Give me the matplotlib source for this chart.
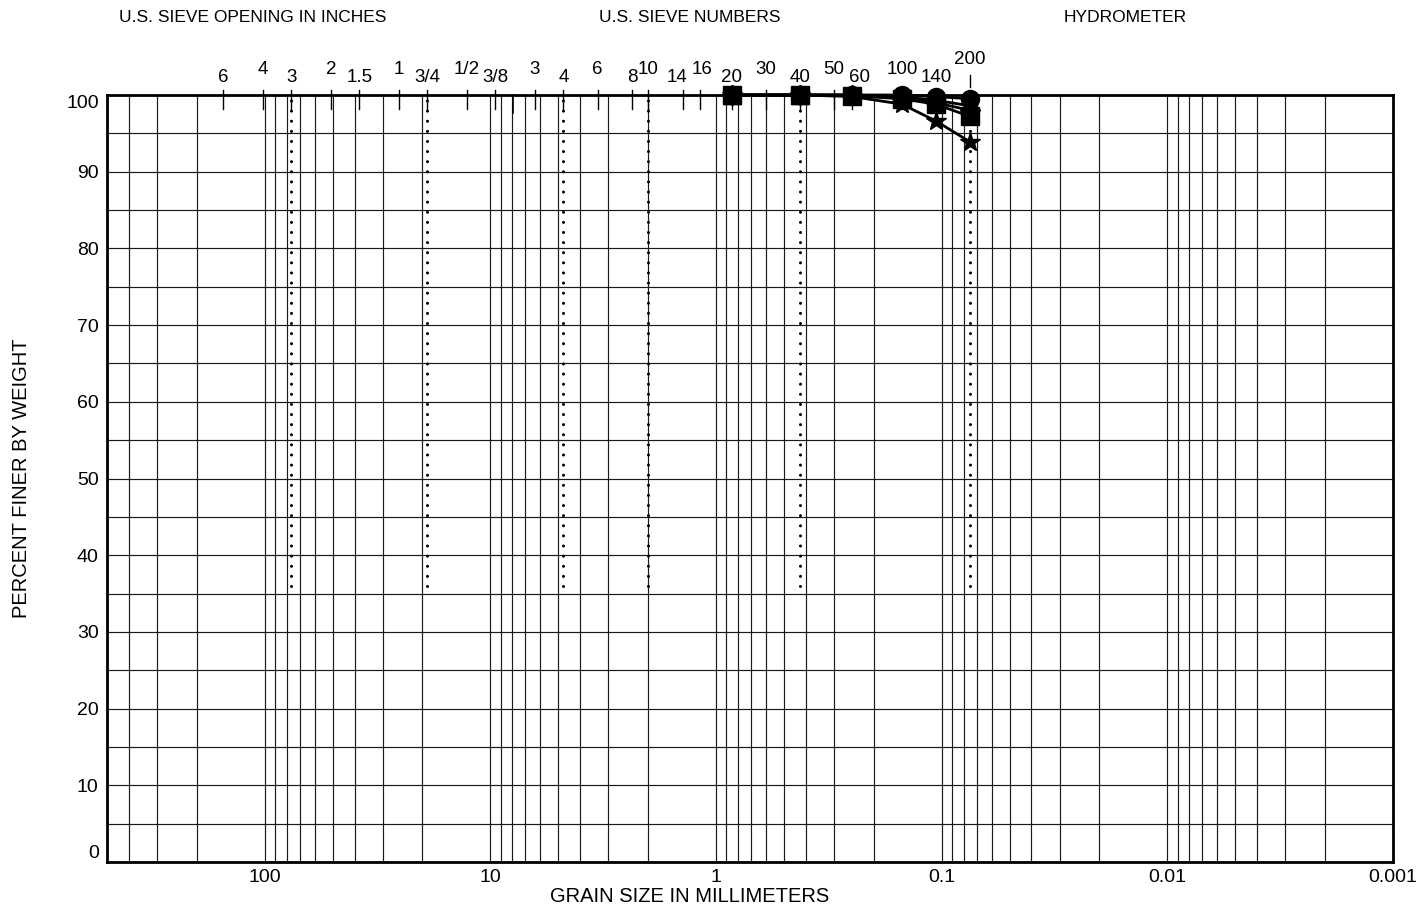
import numpy as np
import matplotlib.pyplot as plt

plt.rcParams['font.family'] = ['Liberation Sans', 'DejaVu Sans']

# sieve openings (mm) and their labels, inches first then U.S. sieve numbers
sieve_mm = [152.4, 101.6, 76.2, 50.8, 38.1, 25.4, 19.05, 12.7, 9.525,
            6.35, 4.75, 3.35, 2.36, 2.0, 1.4, 1.18, 0.85, 0.6, 0.425,
            0.3, 0.25, 0.15, 0.106, 0.075]
sieve_lab = ["6", "4", "3", "2", "1.5", "1", "3/4", "1/2", "3/8",
             "3", "4", "6", "8", "10", "14", "16", "20", "30", "40",
             "50", "60", "100", "140", "200"]
dotted_mm = [76.2, 19.05, 4.75, 2.0, 0.425, 0.075]

# test results: percent finer at #20, #40, #60, #100, #140, #200
test_mm = [0.85, 0.425, 0.25, 0.15, 0.106, 0.075]
pf_circle = [100, 100, 100, 100, 99.8, 99.5]
pf_square = [100, 100, 99.9, 99.5, 98.8, 97.2]
pf_triangle = [100, 100, 100, 99.8, 99.3, 98.6]
pf_diamond = [100, 100, 100, 99.6, 99.0, 98.0]
pf_star = [100, 100, 99.8, 98.8, 96.6, 93.9]

x_major = [100, 10, 1, 0.1, 0.01, 0.001]
x_major_lab = ["100", "10", "1", "0.1", "0.01", "0.001"]

W, H = 1416, 907
fig = plt.figure(figsize=(W / 100, H / 100), dpi=100)
ax = fig.add_axes([107 / W, 1 - 862 / H, (1393 - 107) / W, (862 - 95) / H])

ax.set_xscale('log')
ax.set_xlim(500, 0.001)
ax.set_ylim(0, 100)

# grid: every 1..9 per decade on x, every 5 % on y
minors = [m * 10.0 ** e for e in range(-3, 3) for m in range(2, 10) if m * 10.0 ** e <= 500]
ax.set_xticks(x_major)
ax.set_xticklabels(x_major_lab)
ax.set_xticks(minors, minor=True)
ax.xaxis.set_minor_formatter(plt.NullFormatter())
ax.set_yticks(np.arange(0, 101, 10))
ax.set_yticks(np.arange(5, 100, 10), minor=True)
ax.grid(which='both', color='#1a1a1a', lw=0.85)
ax.tick_params(which='both', length=0, labelsize=14)
ax.tick_params(axis='x', pad=5)
ax.tick_params(axis='y', pad=6)
ylabs = ax.get_yticklabels()
ylabs[0].set_va('bottom')
ylabs[-1].set_va('top')
for s in ax.spines.values():
    s.set_linewidth(2.0)

# dotted lines at the key sieves
for d in dotted_mm:
    ax.plot([d, d], [36, 100], color='black', lw=2.2, ls=(0, (0.01, 3.3)),
            dash_capstyle='round', zorder=3, clip_on=False)

# sieve ticks and labels along the top
nudge = {"60": 8, "14": -6, "16": 2}
for k, (d, lab) in enumerate(zip(sieve_mm, sieve_lab)):
    if k == len(sieve_mm) - 1:
        ax.plot([d, d], [102.6, 101.0], color='black', lw=1, clip_on=False)
        off = 35
    else:
        ax.plot([d, d], [100.65, 98.2], color='black', lw=1, clip_on=False)
        off = 17 if k % 2 == 0 else 25
    ax.annotate(lab, xy=(d, 1), xycoords=('data', 'axes fraction'),
                xytext=(nudge.get(lab, 0), off), textcoords='offset pixels',
                ha='center', va='center', fontsize=13.5)
ax.plot([7.94, 7.94], [100, 97.7], color='black', lw=1.2, clip_on=False)

series = [(pf_circle, 'o', 13), (pf_triangle, '^', 13), (pf_diamond, 'D', 10),
          (pf_square, 's', 12.5), (pf_star, '*', 15)]
for vals, mk, ms in series:
    ax.plot(test_mm, vals, color='black', lw=2, marker=mk, ms=ms,
            mec='black', mfc='black', zorder=5, clip_on=False)

fig.text(253 / W, 1 - 18 / H, "U.S. SIEVE OPENING IN INCHES", ha='center', va='center', fontsize=12.5)
fig.text(690 / W, 1 - 18 / H, "U.S. SIEVE NUMBERS", ha='center', va='center', fontsize=12.5)
fig.text(1125 / W, 1 - 18 / H, "HYDROMETER", ha='center', va='center', fontsize=12.5)

fig.text(22 / W, 1 - 478 / H, "PERCENT FINER BY WEIGHT", rotation=90,
         ha='center', va='center', fontsize=14.5)
fig.text(690 / W, 1 - 897 / H, "GRAIN SIZE IN MILLIMETERS", ha='center', va='center', fontsize=14.5)

fig.savefig("out.png", dpi=100)
